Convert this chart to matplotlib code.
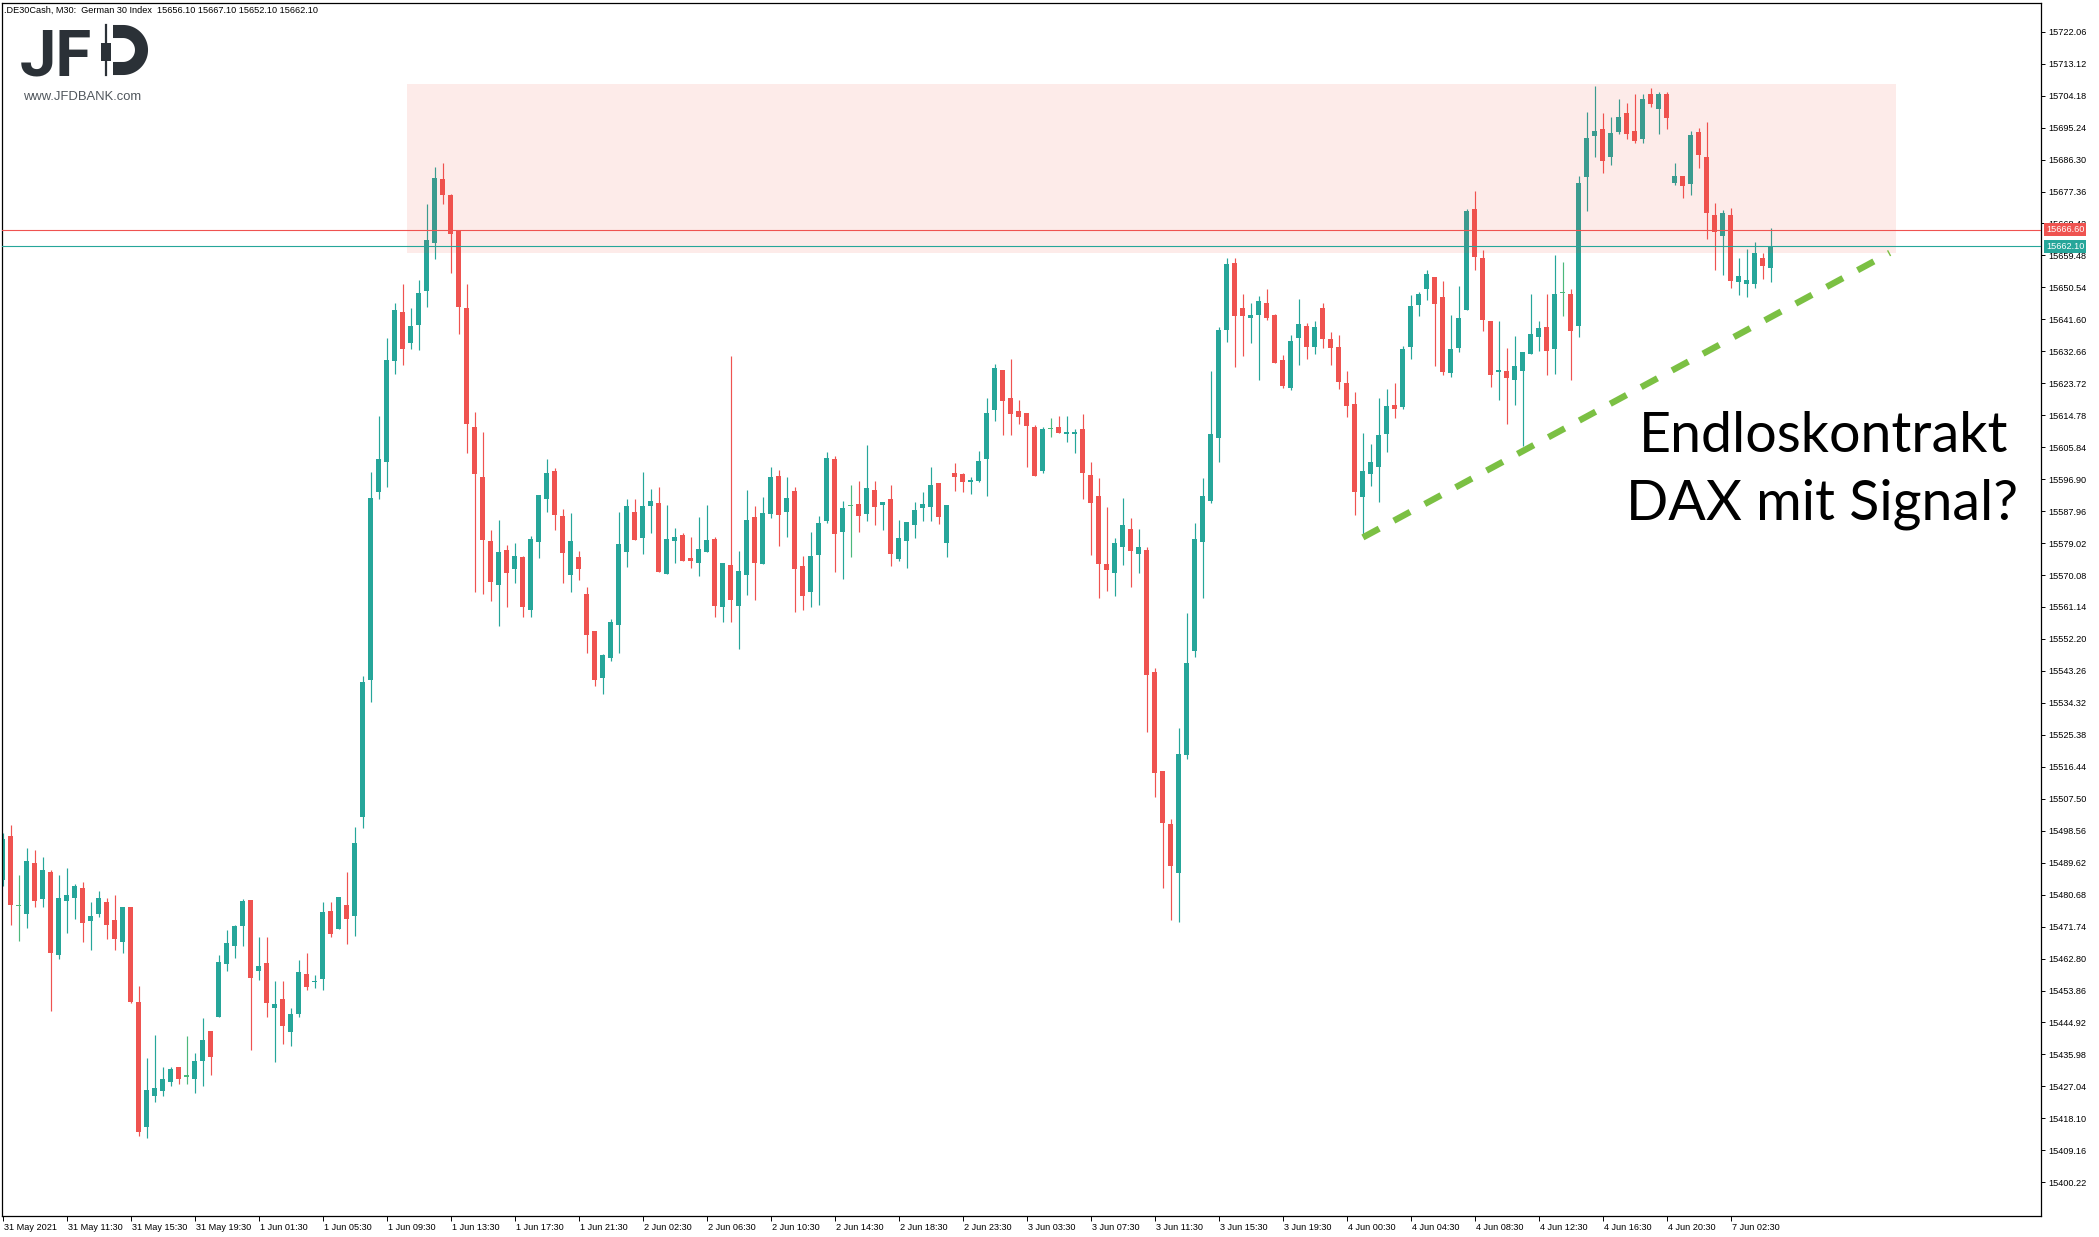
import matplotlib
matplotlib.use("Agg")
import matplotlib.pyplot as plt
import matplotlib.transforms as mtransforms
from matplotlib.patches import Rectangle
import numpy as np

# ---------------- data ----------------
opens = [15484.9, 15497.1, 15477.4, 15475.3, 15489.6, 15479.5, 15487.0, 15463.8, 15478.9, 15479.8,
         15482.6, 15473.3, 15475.3, 15478.6, 15473.6, 15467.4, 15477.2, 15450.6, 15415.6, 15424.3,
         15425.7, 15428.2, 15432.4, 15429.8, 15429.1, 15434.1, 15442.5, 15446.4, 15461.3, 15466.3,
         15471.9, 15479.2, 15459.3, 15461.6, 15449.0, 15451.4, 15442.3, 15447.3, 15458.6, 15456.3,
         15457.1, 15476.2, 15471.2, 15477.9, 15474.7, 15502.4, 15540.6, 15593.3, 15601.7, 15630.0,
         15643.6, 15635.0, 15640.0, 15649.6, 15663.0, 15680.8, 15676.3, 15666.7, 15644.7, 15611.5,
         15597.5, 15579.6, 15567.3, 15577.1, 15571.9, 15575.0, 15560.4, 15579.4, 15591.4, 15599.2,
         15586.6, 15570.2, 15575.0, 15564.8, 15554.4, 15541.4, 15547.0, 15556.2, 15576.6, 15587.7,
         15580.5, 15589.5, 15590.2, 15570.5, 15579.7, 15581.2, 15574.8, 15573.5, 15576.6, 15580.2,
         15561.2, 15572.9, 15561.5, 15570.2, 15586.3, 15573.3, 15587.2, 15597.8, 15587.7, 15593.6,
         15572.6, 15565.4, 15575.8, 15585.3, 15602.5, 15582.2, 15589.3, 15590.0, 15587.2, 15593.9,
         15589.7, 15591.4, 15574.6, 15579.7, 15584.2, 15588.7, 15589.2, 15595.8, 15578.9, 15598.6,
         15598.4, 15596.0, 15596.4, 15602.4, 15616.3, 15627.4, 15619.6, 15616.0, 15615.4, 15611.5,
         15599.3, 15610.9, 15611.5, 15609.4, 15609.4, 15611.0, 15598.0, 15592.2, 15573.2, 15570.7,
         15577.8, 15582.9, 15575.9, 15577.0, 15542.9, 15515.2, 15500.4, 15486.6, 15519.8, 15548.9,
         15579.3, 15590.7, 15608.4, 15638.5, 15657.4, 15644.8, 15642.1, 15642.9, 15646.2, 15642.8,
         15630.2, 15622.5, 15636.5, 15639.7, 15634.0, 15644.8, 15636.2, 15633.9, 15623.8, 15617.9,
         15592.0, 15598.4, 15600.4, 15609.6, 15617.6, 15617.2, 15633.9, 15645.7, 15650.2, 15653.4,
         15647.9, 15626.7, 15633.7, 15644.3, 15672.5, 15658.8, 15641.2, 15627.0, 15627.2, 15624.5,
         15627.2, 15632.0, 15636.8, 15639.5, 15633.4, 15648.9, 15648.7, 15639.8, 15681.5, 15693.0,
         15694.8, 15687.1, 15694.0, 15699.3, 15694.3, 15692.0, 15704.6, 15700.4, 15704.6, 15679.7,
         15681.7, 15679.5, 15694.0, 15687.0, 15670.8, 15664.9, 15670.8, 15652.0, 15651.5, 15651.5,
         15658.8, 15656.1]
highs = [15498.0, 15500.2, 15486.2, 15493.8, 15493.2, 15491.2, 15487.5, 15486.2, 15488.2, 15483.7,
         15484.2, 15478.6, 15481.7, 15479.8, 15480.6, 15477.2, 15477.2, 15455.1, 15435.0, 15441.4,
         15432.4, 15432.4, 15432.4, 15441.1, 15436.4, 15446.2, 15442.5, 15463.8, 15470.8, 15472.2,
         15479.5, 15479.2, 15468.8, 15468.8, 15456.6, 15456.6, 15449.0, 15462.3, 15464.3, 15458.3,
         15478.7, 15478.7, 15480.0, 15487.1, 15499.6, 15541.7, 15599.0, 15614.5, 15636.5, 15646.1,
         15651.6, 15644.7, 15652.5, 15673.8, 15684.2, 15685.4, 15676.8, 15666.7, 15651.6, 15615.8,
         15610.2, 15582.7, 15585.5, 15578.5, 15579.0, 15575.4, 15581.0, 15592.5, 15602.5, 15600.0,
         15588.5, 15587.4, 15576.8, 15566.7, 15554.4, 15548.0, 15557.8, 15587.8, 15591.3, 15591.3,
         15598.9, 15594.1, 15594.7, 15589.6, 15583.2, 15581.8, 15580.7, 15586.3, 15589.6, 15580.7,
         15573.4, 15631.3, 15576.8, 15593.9, 15589.4, 15591.9, 15600.3, 15599.5, 15597.5, 15594.7,
         15575.4, 15582.1, 15586.6, 15604.5, 15603.4, 15590.8, 15595.3, 15596.4, 15606.4, 15596.4,
         15590.5, 15595.3, 15585.5, 15584.9, 15590.5, 15593.3, 15600.3, 15595.8, 15589.6, 15601.4,
         15598.6, 15597.5, 15604.8, 15619.6, 15629.1, 15627.4, 15630.5, 15619.0, 15615.4, 15612.1,
         15611.5, 15614.0, 15614.6, 15614.6, 15611.0, 15615.1, 15601.7, 15597.3, 15589.1, 15580.4,
         15591.6, 15586.0, 15582.9, 15577.9, 15544.0, 15515.2, 15501.8, 15527.3, 15559.5, 15584.6,
         15597.3, 15627.2, 15639.5, 15658.8, 15658.8, 15648.7, 15646.2, 15648.1, 15650.1, 15643.1,
         15631.6, 15637.2, 15647.3, 15640.6, 15641.2, 15646.2, 15638.1, 15637.2, 15627.2, 15621.3,
         15609.8, 15606.7, 15619.6, 15622.1, 15623.9, 15634.2, 15648.5, 15649.3, 15655.4, 15653.4,
         15652.3, 15642.8, 15650.9, 15672.5, 15677.5, 15661.0, 15641.2, 15641.2, 15633.6, 15637.0,
         15632.5, 15648.7, 15641.2, 15648.7, 15659.6, 15657.6, 15650.1, 15681.7, 15699.6, 15706.9,
         15699.3, 15698.2, 15703.2, 15702.1, 15704.6, 15704.6, 15706.3, 15705.2, 15705.2, 15685.3,
         15681.7, 15694.3, 15695.1, 15696.8, 15674.2, 15672.2, 15672.8, 15658.8, 15661.3, 15663.2,
         15660.2, 15667.1]
lows = [15483.0, 15472.2, 15467.7, 15471.4, 15477.2, 15477.2, 15448.1, 15462.7, 15470.0, 15473.9,
        15467.4, 15465.2, 15474.4, 15468.3, 15465.2, 15464.4, 15450.4, 15413.2, 15412.7, 15422.7,
        15424.4, 15427.1, 15427.7, 15427.7, 15425.2, 15427.1, 15430.2, 15446.4, 15459.3, 15463.0,
        15466.3, 15437.2, 15456.8, 15446.4, 15433.9, 15438.9, 15438.4, 15446.5, 15454.0, 15454.6,
        15454.0, 15468.7, 15471.0, 15467.0, 15469.2, 15499.4, 15534.5, 15591.3, 15594.7, 15626.4,
        15628.9, 15633.3, 15633.1, 15645.1, 15658.5, 15673.8, 15654.6, 15637.5, 15604.2, 15565.4,
        15564.8, 15562.9, 15555.9, 15561.2, 15567.9, 15558.4, 15558.4, 15574.9, 15587.8, 15582.7,
        15567.9, 15565.4, 15568.8, 15548.4, 15539.1, 15536.9, 15546.1, 15548.4, 15572.2, 15580.0,
        15576.1, 15581.9, 15571.0, 15570.5, 15573.5, 15574.1, 15572.1, 15569.9, 15576.6, 15558.2,
        15557.0, 15557.0, 15549.5, 15564.6, 15563.2, 15573.3, 15586.1, 15578.3, 15580.8, 15559.8,
        15560.4, 15561.2, 15561.8, 15584.5, 15571.0, 15569.1, 15575.1, 15582.2, 15585.3, 15584.2,
        15582.8, 15572.7, 15574.1, 15572.1, 15580.3, 15585.3, 15585.3, 15584.4, 15575.2, 15593.7,
        15593.3, 15592.8, 15596.2, 15592.2, 15613.1, 15609.3, 15609.3, 15612.4, 15600.4, 15597.9,
        15598.6, 15608.8, 15609.9, 15607.3, 15604.2, 15591.4, 15575.7, 15563.7, 15565.7, 15564.3,
        15573.0, 15566.8, 15570.7, 15526.3, 15508.1, 15482.6, 15473.6, 15473.1, 15518.7, 15547.2,
        15563.7, 15590.2, 15601.7, 15635.2, 15628.4, 15631.4, 15635.0, 15624.6, 15641.5, 15629.5,
        15622.5, 15621.9, 15628.9, 15630.6, 15632.0, 15633.7, 15628.9, 15622.2, 15614.4, 15587.0,
        15581.4, 15595.1, 15590.6, 15604.6, 15614.1, 15616.6, 15630.6, 15642.6, 15647.1, 15628.6,
        15626.0, 15625.6, 15632.6, 15644.3, 15655.5, 15638.4, 15622.8, 15618.9, 15612.4, 15617.7,
        15606.3, 15632.0, 15632.8, 15625.9, 15626.4, 15642.4, 15624.5, 15636.8, 15672.0, 15687.1,
        15682.6, 15684.9, 15693.4, 15692.0, 15690.9, 15690.9, 15701.0, 15693.4, 15694.9, 15679.2,
        15675.5, 15676.4, 15684.0, 15664.1, 15655.4, 15654.0, 15650.4, 15648.4, 15647.9, 15650.4,
        15652.9, 15652.1]
closes = [15496.3, 15477.9, 15477.4, 15490.1, 15478.9, 15487.6, 15464.4, 15479.8, 15480.6, 15483.1,
          15472.8, 15474.7, 15479.8, 15472.2, 15468.3, 15477.2, 15450.6, 15414.2, 15426.0, 15426.6,
          15429.1, 15431.9, 15429.1, 15429.8, 15434.1, 15440.0, 15435.2, 15461.8, 15467.2, 15471.9,
          15478.9, 15457.4, 15460.7, 15450.4, 15450.2, 15444.0, 15447.2, 15459.1, 15454.9, 15456.5,
          15475.7, 15469.7, 15479.9, 15473.9, 15495.0, 15540.2, 15591.5, 15602.4, 15630.1, 15644.1,
          15633.3, 15639.7, 15649.1, 15663.7, 15681.2, 15676.5, 15665.4, 15645.1, 15612.3, 15598.4,
          15579.9, 15568.2, 15576.5, 15570.7, 15575.4, 15561.2, 15580.1, 15592.5, 15598.5, 15587.0,
          15576.3, 15579.6, 15571.9, 15553.4, 15540.8, 15547.7, 15556.9, 15578.8, 15589.4, 15580.0,
          15589.4, 15590.8, 15571.0, 15580.2, 15580.7, 15574.1, 15574.1, 15577.4, 15579.9, 15561.5,
          15573.4, 15563.2, 15571.2, 15585.5, 15573.5, 15587.4, 15597.5, 15586.9, 15591.6, 15571.9,
          15564.3, 15575.4, 15584.6, 15602.8, 15581.6, 15588.8, 15589.3, 15586.7, 15594.4, 15589.2,
          15590.5, 15576.0, 15580.4, 15584.9, 15588.2, 15590.0, 15595.3, 15586.4, 15589.6, 15597.6,
          15596.0, 15596.6, 15601.9, 15615.4, 15627.9, 15618.7, 15615.2, 15614.3, 15611.8, 15597.9,
          15611.0, 15610.9, 15609.9, 15610.1, 15610.1, 15598.5, 15590.3, 15573.3, 15571.4, 15579.0,
          15584.1, 15576.9, 15577.9, 15542.2, 15514.8, 15500.8, 15488.7, 15520.0, 15545.4, 15580.2,
          15592.2, 15609.6, 15638.5, 15657.0, 15642.6, 15642.6, 15642.8, 15646.7, 15642.1, 15629.5,
          15623.0, 15635.5, 15640.3, 15634.0, 15639.5, 15636.2, 15633.7, 15624.2, 15617.5, 15593.4,
          15599.2, 15601.7, 15609.3, 15617.4, 15616.6, 15633.3, 15645.3, 15648.7, 15654.3, 15646.0,
          15626.9, 15633.3, 15642.0, 15671.9, 15658.9, 15641.5, 15625.9, 15627.4, 15625.3, 15628.6,
          15632.5, 15637.5, 15639.2, 15632.8, 15648.7, 15648.9, 15638.4, 15679.7, 15692.3, 15694.3,
          15686.0, 15693.7, 15698.2, 15693.5, 15691.5, 15703.2, 15701.8, 15704.6, 15697.9, 15681.7,
          15678.9, 15693.2, 15687.6, 15671.3, 15666.0, 15671.3, 15652.3, 15653.7, 15652.6, 15660.2,
          15656.5, 15662.1]

time_labels = ["31 May 2021", "31 May 11:30", "31 May 15:30", "31 May 19:30", "1 Jun 01:30",
               "1 Jun 05:30", "1 Jun 09:30", "1 Jun 13:30", "1 Jun 17:30", "1 Jun 21:30",
               "2 Jun 02:30", "2 Jun 06:30", "2 Jun 10:30", "2 Jun 14:30", "2 Jun 18:30",
               "2 Jun 23:30", "3 Jun 03:30", "3 Jun 07:30", "3 Jun 11:30", "3 Jun 15:30",
               "3 Jun 19:30", "4 Jun 00:30", "4 Jun 04:30", "4 Jun 08:30", "4 Jun 12:30",
               "4 Jun 16:30", "4 Jun 20:30", "7 Jun 02:30"]
bars_per_label = 8

price_ticks = [15400.22, 15409.16, 15418.10, 15427.04, 15435.98, 15444.92, 15453.86, 15462.80,
               15471.74, 15480.68, 15489.62, 15498.56, 15507.50, 15516.44, 15525.38, 15534.32,
               15543.26, 15552.20, 15561.14, 15570.08, 15579.02, 15587.96, 15596.90, 15605.84,
               15614.78, 15623.72, 15632.66, 15641.60, 15650.54, 15659.48, 15668.42, 15677.36,
               15686.30, 15695.24, 15704.18, 15713.12, 15722.06]

level_red = 15666.60
level_teal = 15662.10
zone_bars = [50.6, 236.7]
zone_prices = [15660.2, 15707.4]
trend_bars = [170.05, 235.9]
trend_prices = [15580.6, 15660.2]

symbol_text = ".DE30Cash, M30:  German 30 Index"
headline = ["Endloskontrakt", "DAX mit Signal?"]

# ---------------- style ----------------
plt.rcParams['font.family'] = ['Liberation Sans', 'DejaVu Sans']
BULL = '#26A69A'
BEAR = '#EF5350'
DOJI = '#4CB87B'
LOGO = '#2B3137'

W, H = 2099, 1237
fig = plt.figure(figsize=(W / 100, H / 100), dpi=100)
fig.patch.set_facecolor('white')

ax_left, ax_right, ax_top, ax_bottom = 2.3, 2041.0, 2.7, 1216.0
ax = fig.add_axes([ax_left / W, 1 - ax_bottom / H, (ax_right - ax_left) / W, (ax_bottom - ax_top) / H])
ax.set_facecolor('white')

o = np.array(opens); h = np.array(highs); l = np.array(lows); c = np.array(closes)
idx = np.arange(len(o))
cols = np.where(c > o, BULL, np.where(c < o, BEAR, DOJI))

ax.vlines(idx, l, h, colors=cols, linewidth=0.85, zorder=2)
body_h = np.maximum(np.abs(c - o), 0.3)
ax.bar(idx, body_h, bottom=np.minimum(o, c), width=0.625, color=cols, linewidth=0, zorder=2.1)

# resistance zone
ax.add_patch(Rectangle((zone_bars[0], zone_prices[0]), zone_bars[1] - zone_bars[0],
                       zone_prices[1] - zone_prices[0], facecolor='#F44336', alpha=0.107,
                       linewidth=0, zorder=3))
# levels
ax.axhline(level_red, color=BEAR, linewidth=0.8, zorder=4)
ax.axhline(level_teal, color=BULL, linewidth=0.8, zorder=4)
# trend line
ax.plot(trend_bars, trend_prices, color='#7BC043', linewidth=4.6, linestyle=(0, (2.9, 2.6)),
        dash_capstyle='butt', zorder=5)

# axes limits
px_per_pt = 3.575
y_top_price = 15722.06 + (31.7 - ax_top) / px_per_pt
y_bot_price = 15722.06 - (ax_bottom - 31.7) / px_per_pt
ax.set_ylim(y_bot_price, y_top_price)
ax.set_xlim((ax_left - 2.5) / 8, (ax_right - 2.5) / 8)

for s in ax.spines.values():
    s.set_color('black')
    s.set_linewidth(0.9)

ax.yaxis.tick_right()
ax.set_yticks(price_ticks)
ax.set_yticklabels(['%.2f' % v for v in price_ticks])
ax.tick_params(axis='y', direction='out', length=3, width=0.7, pad=2, labelsize=6.6, colors='black')

ax.set_xticks(idx[::bars_per_label][:len(time_labels)])
ax.set_xticklabels(time_labels, ha='left')
ax.tick_params(axis='x', direction='out', length=3.5, width=0.7, pad=1.5, labelsize=6.6, colors='black')
offset = mtransforms.ScaledTranslation(2 / 100, 0, fig.dpi_scale_trans)
for lab in ax.get_xticklabels():
    lab.set_transform(lab.get_transform() + offset)

# price boxes on the scale
trans = mtransforms.blended_transform_factory(ax.transAxes, ax.transData)
xb = 1 + 5.0 / (ax_right - ax_left)
for val, col in [(level_red, BEAR), (closes[-1], BULL)]:
    ax.text(xb, val, '%.2f' % val, transform=trans, ha='left', va='center', fontsize=6.6,
            color='white', zorder=10, clip_on=False,
            bbox=dict(boxstyle='square,pad=0.22', fc=col, ec='none'))

# ---------------- overlay (pixel coordinates) ----------------
ov = fig.add_axes([0, 0, 1, 1])
ov.set_xlim(0, W)
ov.set_ylim(H, 0)
ov.axis('off')
ov.patch.set_alpha(0)

header = "%s  %.2f %.2f %.2f %.2f" % (symbol_text, opens[-1], highs[-1], lows[-1], closes[-1])
ov.text(4, 12.5, header, fontsize=6.6, va='baseline', ha='left', color='black')

# logo
ov.text(20, 75, 'JF', fontsize=47, fontweight='bold', family='Roboto', color=LOGO,
        va='baseline', ha='left')
ov.plot([106, 106], [25, 75], color=LOGO, linewidth=1.6)
ov.add_patch(Rectangle((101, 43), 10, 18, facecolor=LOGO, edgecolor='none'))
t = np.linspace(-np.pi / 2, np.pi / 2, 60)
dx = np.concatenate([[113], 123 + 18.5 * np.cos(t), [113]])
dy = np.concatenate([[31.5], 50 + 18.5 * np.sin(t), [68.5]])
ov.plot(dx, dy, color=LOGO, linewidth=9.4, solid_capstyle='butt', solid_joinstyle='miter')
ov.text(23, 100, 'www.JFDBANK.com', fontsize=9.4, color='#50565C', va='baseline', ha='left')

# headline
ov.text(1824, 452, headline[0], fontsize=40, family='Lato', color='black', ha='center', va='baseline')
ov.text(1822, 519, headline[1], fontsize=40, family='Lato', color='black', ha='center', va='baseline')

fig.savefig('out.png', dpi=100)
